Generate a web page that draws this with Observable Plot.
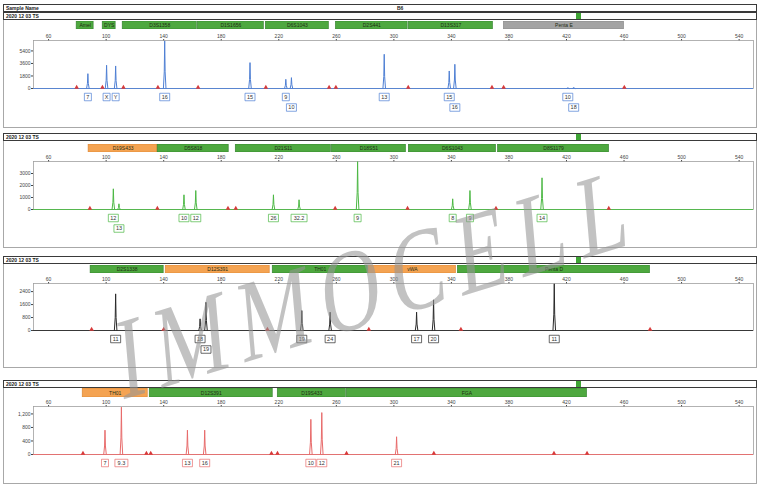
<!DOCTYPE html>
<html><head><meta charset="utf-8">
<script src="https://cdn.jsdelivr.net/npm/d3@7"></script>
<script src="https://cdn.jsdelivr.net/npm/@observablehq/plot@0.6"></script>
<style>
body{margin:0;background:#fff;font-family:"Liberation Sans",Arial,sans-serif;}
#root{position:relative;width:760px;height:490px;overflow:hidden;background:#fff;}
.box{position:absolute;left:3px;width:754px;box-sizing:border-box;}
.panel{border:1px solid #a8a8a8;}
.trow{border:1px solid #3a3a3a;height:8px;font-size:5px;line-height:6px;padding-left:2px;color:#222;font-weight:bold;}
.sq{position:absolute;left:572px;width:5px;height:6px;top:0px;background:#3fa535;}
#wm{position:absolute;left:378px;top:282px;transform:translate(-50%,-50%) rotate(-17deg) skewX(-12deg) scaleX(0.74);font-family:"Liberation Serif","DejaVu Serif",serif;font-size:114px;letter-spacing:16px;color:rgba(150,150,150,0.58);white-space:nowrap;pointer-events:none;line-height:1;}
</style></head>
<body><div id="root"></div>
<script>
// ---------- shared axis ----------
const xTicks = [60,100,140,180,220,260,300,340,380,420,460,500,540];
const sampleTitle = "Sample Name";
const sampleId = "B6";
const runTitle = "2020 12 03 TS";

// ---------- Panel 1 (blue dye) ----------
const blueLoci      = ["Amel","DYS","D3S1358","D1S1656","D6S1043","D2S441","D13S317","Penta E"];
const blueLocusFrom = [79.5, 97.6, 111.5, 163.7, 211.0, 259.7, 310.4, 376.5];
const blueLocusTo   = [91.3, 106.6, 163.0, 209.6, 254.8, 309.6, 368.9, 460.0];
const blueLocusKind = ["g","g","g","g","g","g","g","x"];
const bluePeakBp    = [87.3, 100.3, 106.6, 140.7, 200.0, 224.9, 228.8, 293.3, 338.5, 342.4, 420.9, 425.0];
const bluePeakRfu   = [2130, 3340, 3240, 6840, 3720, 1320, 1560, 4920, 2520, 3480, 120, 150];
const blueAllele    = ["7","X","Y","16","15","9","10","13","15","16","10","18"];
const blueAlleleRow = [1,1,1,1,1,1,2,1,1,2,1,2];
const blueMarkerBp  = [79.5, 97.4, 112, 136, 163.9, 211, 255, 259.7, 310, 368.2, 376.3, 460.2];
const blueYTicks    = [0, 1800, 3600, 5400];
const blueYMax      = 6900;

// ---------- Panel 2 (green dye) ----------
const greenLoci      = ["D19S433","D5S818","D21S11","D18S51","D6S1043","D8S1179"];
const greenLocusFrom = [87.8, 135.8, 190.1, 256.9, 310.4, 372.4];
const greenLocusTo   = [135.8, 185.2, 256.2, 308.4, 371.0, 449.6];
const greenLocusKind = ["o","g","g","g","g","g"];
const greenPeakBp    = [105.0, 108.9, 154.1, 162.3, 216.3, 234.1, 274.8, 340.9, 352.9, 403.0];
const greenPeakRfu   = [1725, 475, 1225, 1580, 1225, 810, 3990, 890, 1580, 2640];
const greenAllele    = ["12","13","10","12","26","32.2","9","8","9","14"];
const greenAlleleRow = [1,2,1,1,1,1,1,1,1,1];
const greenMarkerBp  = [88.7, 135.6, 184.7, 190.1, 259.2, 309.5, 371, 449.4];
const greenYTicks    = [0, 1000, 2000, 3000];
const greenYMax      = 4000;

// ---------- Panel 3 (yellow dye, drawn black) ----------
const blackLoci      = ["D2S1338","D12S391","TH01","vWA","Penta D"];
const blackLocusFrom = [89.2, 141.4, 215.8, 282.6, 344.5];
const blackLocusTo   = [140.0, 213.7, 281.9, 343.2, 478.1];
const blackLocusKind = ["g","o","g","o","g"];
const blackPeakBp    = [106.6, 165.3, 169.4, 236.0, 255.7, 315.8, 327.6, 411.5];
const blackPeakRfu   = [2260, 720, 1740, 1230, 1130, 1130, 1890, 2880];
const blackAllele    = ["11","18","19","19","24","17","20","11"];
const blackAlleleRow = [1,1,2,1,1,1,1,1];
const blackMarkerBp  = [89.9, 140, 212.1, 282.6, 346.6, 478.1];
const blackYTicks    = [0, 800, 1600, 2400];
const blackYMax      = 2900;

// ---------- Panel 4 (red dye) ----------
const redLoci      = ["TH01","D12S391","D19S433","FGA"];
const redLocusFrom = [83.7, 130.3, 219.3, 267.3];
const redLocusTo   = [128.9, 215.8, 266.6, 434.3];
const redLocusKind = ["o","g","g","g"];
const redPeakBp    = [99.2, 110.6, 156.5, 168.5, 242.3, 249.9, 301.9];
const redPeakRfu   = [720, 1400, 720, 720, 1040, 1240, 525];
const redAllele    = ["7","9.3","13","16","10","12","21"];
const redAlleleRow = [1,1,1,1,1,1,1];
const redMarkerBp  = [83.9, 128, 131, 214.9, 219.1, 267.1, 327.8, 411.3, 434.3];
const redYTicks    = [0, 400, 800, 1200];
const redYMax      = 1420;

const watermark = "IMMOCELL";

// ---------- rendering ----------
const panels = [
  {loci:blueLoci, from:blueLocusFrom, to:blueLocusTo, kind:blueLocusKind, bp:bluePeakBp, rfu:bluePeakRfu, allele:blueAllele, row:blueAlleleRow, markers:blueMarkerBp, yTicks:blueYTicks, yMax:blueYMax, color:"#4f80d4", fmt:d=>String(d),
   top:12, bottom:128, barTop:21, barH:8, frameTop:40, frameH:48},
  {loci:greenLoci, from:greenLocusFrom, to:greenLocusTo, kind:greenLocusKind, bp:greenPeakBp, rfu:greenPeakRfu, allele:greenAllele, row:greenAlleleRow, markers:greenMarkerBp, yTicks:greenYTicks, yMax:greenYMax, color:"#4cb844", fmt:d=>String(d),
   top:133, bottom:248, barTop:144, barH:8, frameTop:161, frameH:48},
  {loci:blackLoci, from:blackLocusFrom, to:blackLocusTo, kind:blackLocusKind, bp:blackPeakBp, rfu:blackPeakRfu, allele:blackAllele, row:blackAlleleRow, markers:blackMarkerBp, yTicks:blackYTicks, yMax:blackYMax, color:"#2a2a2a", fmt:d=>String(d),
   top:256, bottom:368, barTop:265, barH:8, frameTop:283, frameH:47},
  {loci:redLoci, from:redLocusFrom, to:redLocusTo, kind:redLocusKind, bp:redPeakBp, rfu:redPeakRfu, allele:redAllele, row:redAlleleRow, markers:redMarkerBp, yTicks:redYTicks, yMax:redYMax, color:"#e86b6b", fmt:d3.format(","),
   top:380, bottom:484, barTop:388, barH:9, frameTop:406, frameH:48}
];

const kindFill = {g:"#4ea83f", o:"#f4a352", x:"#a3a3a3"};
const kindStroke = {g:"#2f7d2a", o:"#d9822d", x:"#808080"};
const X_DOMAIN = [49.5, 550];
const ML = 33, MR = 7, W = 760;
const FONT = "Liberation Sans, Arial, sans-serif";

const root = document.getElementById("root");

// sample header
const head = document.createElement("div");
head.className = "box trow";
head.style.top = "4px";
head.innerHTML = `<span>${sampleTitle}</span><span style="position:absolute;left:393px;top:0">${sampleId}</span>`;
root.appendChild(head);

function boxSymbol(w, h) {
  return {draw(ctx) { ctx.rect(-w / 2, -h / 2, w, h); }};
}

panels.forEach((p) => {
  const frame = document.createElement("div");
  frame.className = "box panel";
  frame.style.top = p.top + "px";
  frame.style.height = (p.bottom - p.top) + "px";
  root.appendChild(frame);

  const t = document.createElement("div");
  t.className = "box trow";
  t.style.top = p.top + "px";
  t.innerHTML = `<span>${runTitle}</span><div class="sq"></div>`;
  root.appendChild(t);

  // locus bars
  const loci = p.loci.map((name, i) => ({name, from:p.from[i], to:p.to[i], kind:p.kind[i]}));
  const bars = Plot.plot({
    width: W, height: p.barH,
    marginLeft: ML, marginRight: MR, marginTop: 0, marginBottom: 0,
    x: {domain: X_DOMAIN, axis: null},
    style: {background: "transparent", fontFamily: FONT},
    marks: [
      Plot.rect(loci, {x1: "from", x2: "to", fill: d => kindFill[d.kind], stroke: d => kindStroke[d.kind], strokeWidth: 0.6}),
      Plot.text(loci, {x: d => (d.from + d.to) / 2, text: "name", fontSize: 5, fill: "#1f2d14", frameAnchor: "middle"})
    ]
  });
  bars.style.position = "absolute";
  bars.style.left = "0px";
  bars.style.top = p.barTop + "px";
  root.appendChild(bars);

  // peaks
  const peaks = p.bp.map((bp, i) => ({bp, rfu: p.rfu[i], allele: p.allele[i], row: p.row[i], id: i}));
  const spikes = peaks.flatMap(d => [
    {x: d.bp - 0.9, y: 0, id: d.id},
    {x: d.bp - 0.3, y: d.rfu * 0.35, id: d.id},
    {x: d.bp, y: d.rfu, id: d.id},
    {x: d.bp + 0.3, y: d.rfu * 0.35, id: d.id},
    {x: d.bp + 0.9, y: 0, id: d.id}
  ]);

  const MT = 10, MB = 28;
  const labelMarks = [];
  const groups = d3.groups(peaks, d => d.row, d => d.allele.length);
  for (const [row, byLen] of groups) {
    for (const [len, arr] of byLen) {
      const dy = row === 1 ? 8.5 : 19;
      labelMarks.push(Plot.dot(arr, {x: "bp", y: () => 0, dy, symbol: boxSymbol(len * 3 + 4, 7.5), fill: "white", stroke: p.color, strokeWidth: 0.7}));
      labelMarks.push(Plot.text(arr, {x: "bp", y: () => 0, dy, text: "allele", fontSize: 5.5, fill: "#333"}));
    }
  }

  const chart = Plot.plot({
    width: W, height: MT + p.frameH + MB,
    marginLeft: ML, marginRight: MR, marginTop: MT, marginBottom: MB,
    x: {domain: X_DOMAIN, axis: "top", ticks: xTicks, tickSize: 2, tickPadding: 1, tickFormat: d => String(d), label: null},
    y: {domain: [0, p.yMax], ticks: p.yTicks, tickSize: 2, tickPadding: 1, tickFormat: p.fmt, label: null},
    style: {background: "transparent", fontFamily: FONT, fontSize: "5px", color: "#444"},
    marks: [
      Plot.frame({stroke: "#a0a0a0", strokeWidth: 0.8}),
      Plot.ruleY([0], {stroke: p.color, strokeWidth: 0.9}),
      Plot.line(spikes, {x: "x", y: "y", z: "id", stroke: p.color, strokeWidth: 1}),
      Plot.dot(p.markers, {x: d => d, y: () => 0, symbol: "triangle", r: 1.7, fill: "#d83a3a", stroke: "none", dy: -1}),
      ...labelMarks
    ]
  });
  chart.style.position = "absolute";
  chart.style.left = "0px";
  chart.style.top = (p.frameTop - MT) + "px";
  chart.style.overflow = "visible";
  root.appendChild(chart);
});

const wm = document.createElement("div");
wm.id = "wm";
wm.textContent = watermark;
root.appendChild(wm);
</script></body></html>
